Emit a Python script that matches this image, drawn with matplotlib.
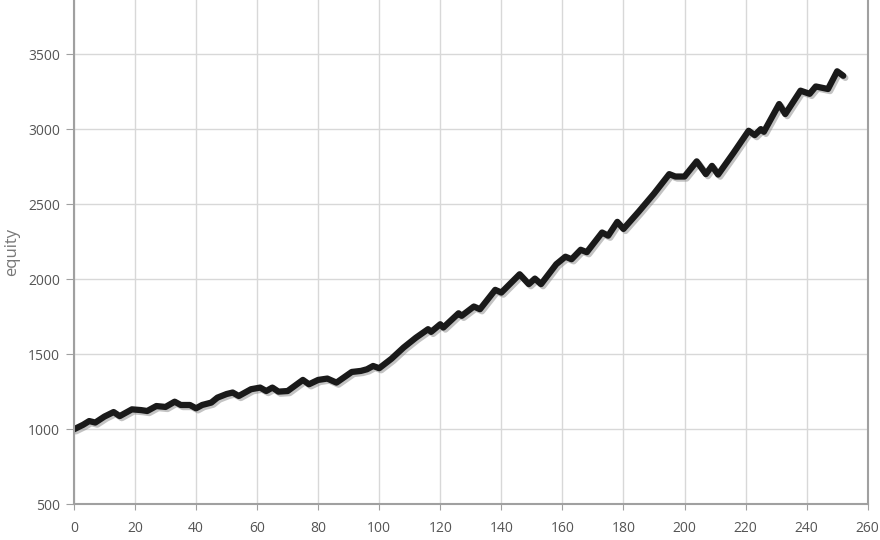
import matplotlib
matplotlib.use("Agg")
import matplotlib.pyplot as plt
import matplotlib.patheffects as pe

plt.rcParams['font.family'] = ['Open Sans', 'DejaVu Sans']

# step number and account equity
steps = [0, 3, 5, 7, 10, 13, 15, 19, 22, 24, 27, 30, 33, 35, 38, 40, 42, 45, 47,
         50, 52, 54, 58, 61, 63, 65, 67, 70, 75, 77, 80, 83, 86, 91, 94, 96, 98,
         100, 104, 108, 112, 116, 117, 120, 121, 126, 127, 131, 133, 138, 140,
         146, 149, 151, 153, 158, 161, 163, 166, 168, 173, 175, 178, 180, 185,
         190, 195, 197, 200, 204, 207, 209, 211, 216, 221, 223, 225, 226, 231,
         233, 238, 241, 243, 247, 250, 252]
equity = [1000, 1030, 1055, 1045, 1085, 1115, 1088, 1133, 1128, 1122, 1155, 1149,
          1184, 1162, 1162, 1140, 1162, 1178, 1211, 1235, 1245, 1222, 1267, 1278,
          1255, 1278, 1251, 1255, 1329, 1300, 1329, 1338, 1311, 1382, 1389, 1400,
          1422, 1407, 1470, 1545, 1610, 1667, 1649, 1700, 1678, 1773, 1756, 1818,
          1800, 1929, 1911, 2033, 1967, 2004, 1967, 2100, 2150, 2133, 2196, 2180,
          2311, 2290, 2382, 2335, 2450, 2570, 2700, 2684, 2684, 2785, 2700, 2755,
          2697, 2840, 2989, 2960, 3000, 2982, 3167, 3100, 3256, 3235, 3284, 3267,
          3385, 3355]

x_ticks = list(range(0, 261, 20))
y_ticks = [500, 1000, 1500, 2000, 2500, 3000, 3500]

fig = plt.figure(figsize=(8.8, 5.4), dpi=100)
ax = fig.add_axes([0.084, 0.066, 0.902, 0.934])

ax.plot(steps, equity, color='#1a1a1a', lw=4.5, solid_joinstyle='round',
        solid_capstyle='round',
        path_effects=[pe.SimpleLineShadow(offset=(1.5, -1.5), shadow_color='#888888', alpha=0.5),
                      pe.Normal()])

ax.set_xlim(0, 260)
ax.set_ylim(500, 3860)
ax.set_xticks(x_ticks)
ax.set_yticks(y_ticks)
ax.grid(True, color='#d8d8d8', lw=1)
ax.set_axisbelow(True)

for side in ['left', 'bottom', 'right']:
    ax.spines[side].set_color('#a0a0a0')
    ax.spines[side].set_linewidth(1.5)
ax.spines['top'].set_visible(False)

ax.tick_params(axis='both', colors='#a0a0a0', labelcolor='#555555', labelsize=10)
ax.tick_params(axis='y', length=6, pad=4)
ax.tick_params(axis='x', length=4, pad=8)

ax.set_ylabel('equity', color='#777777', fontsize=12)
ax.yaxis.set_label_coords(-0.068, 0.5)

fig.savefig('out.png', dpi=100)
